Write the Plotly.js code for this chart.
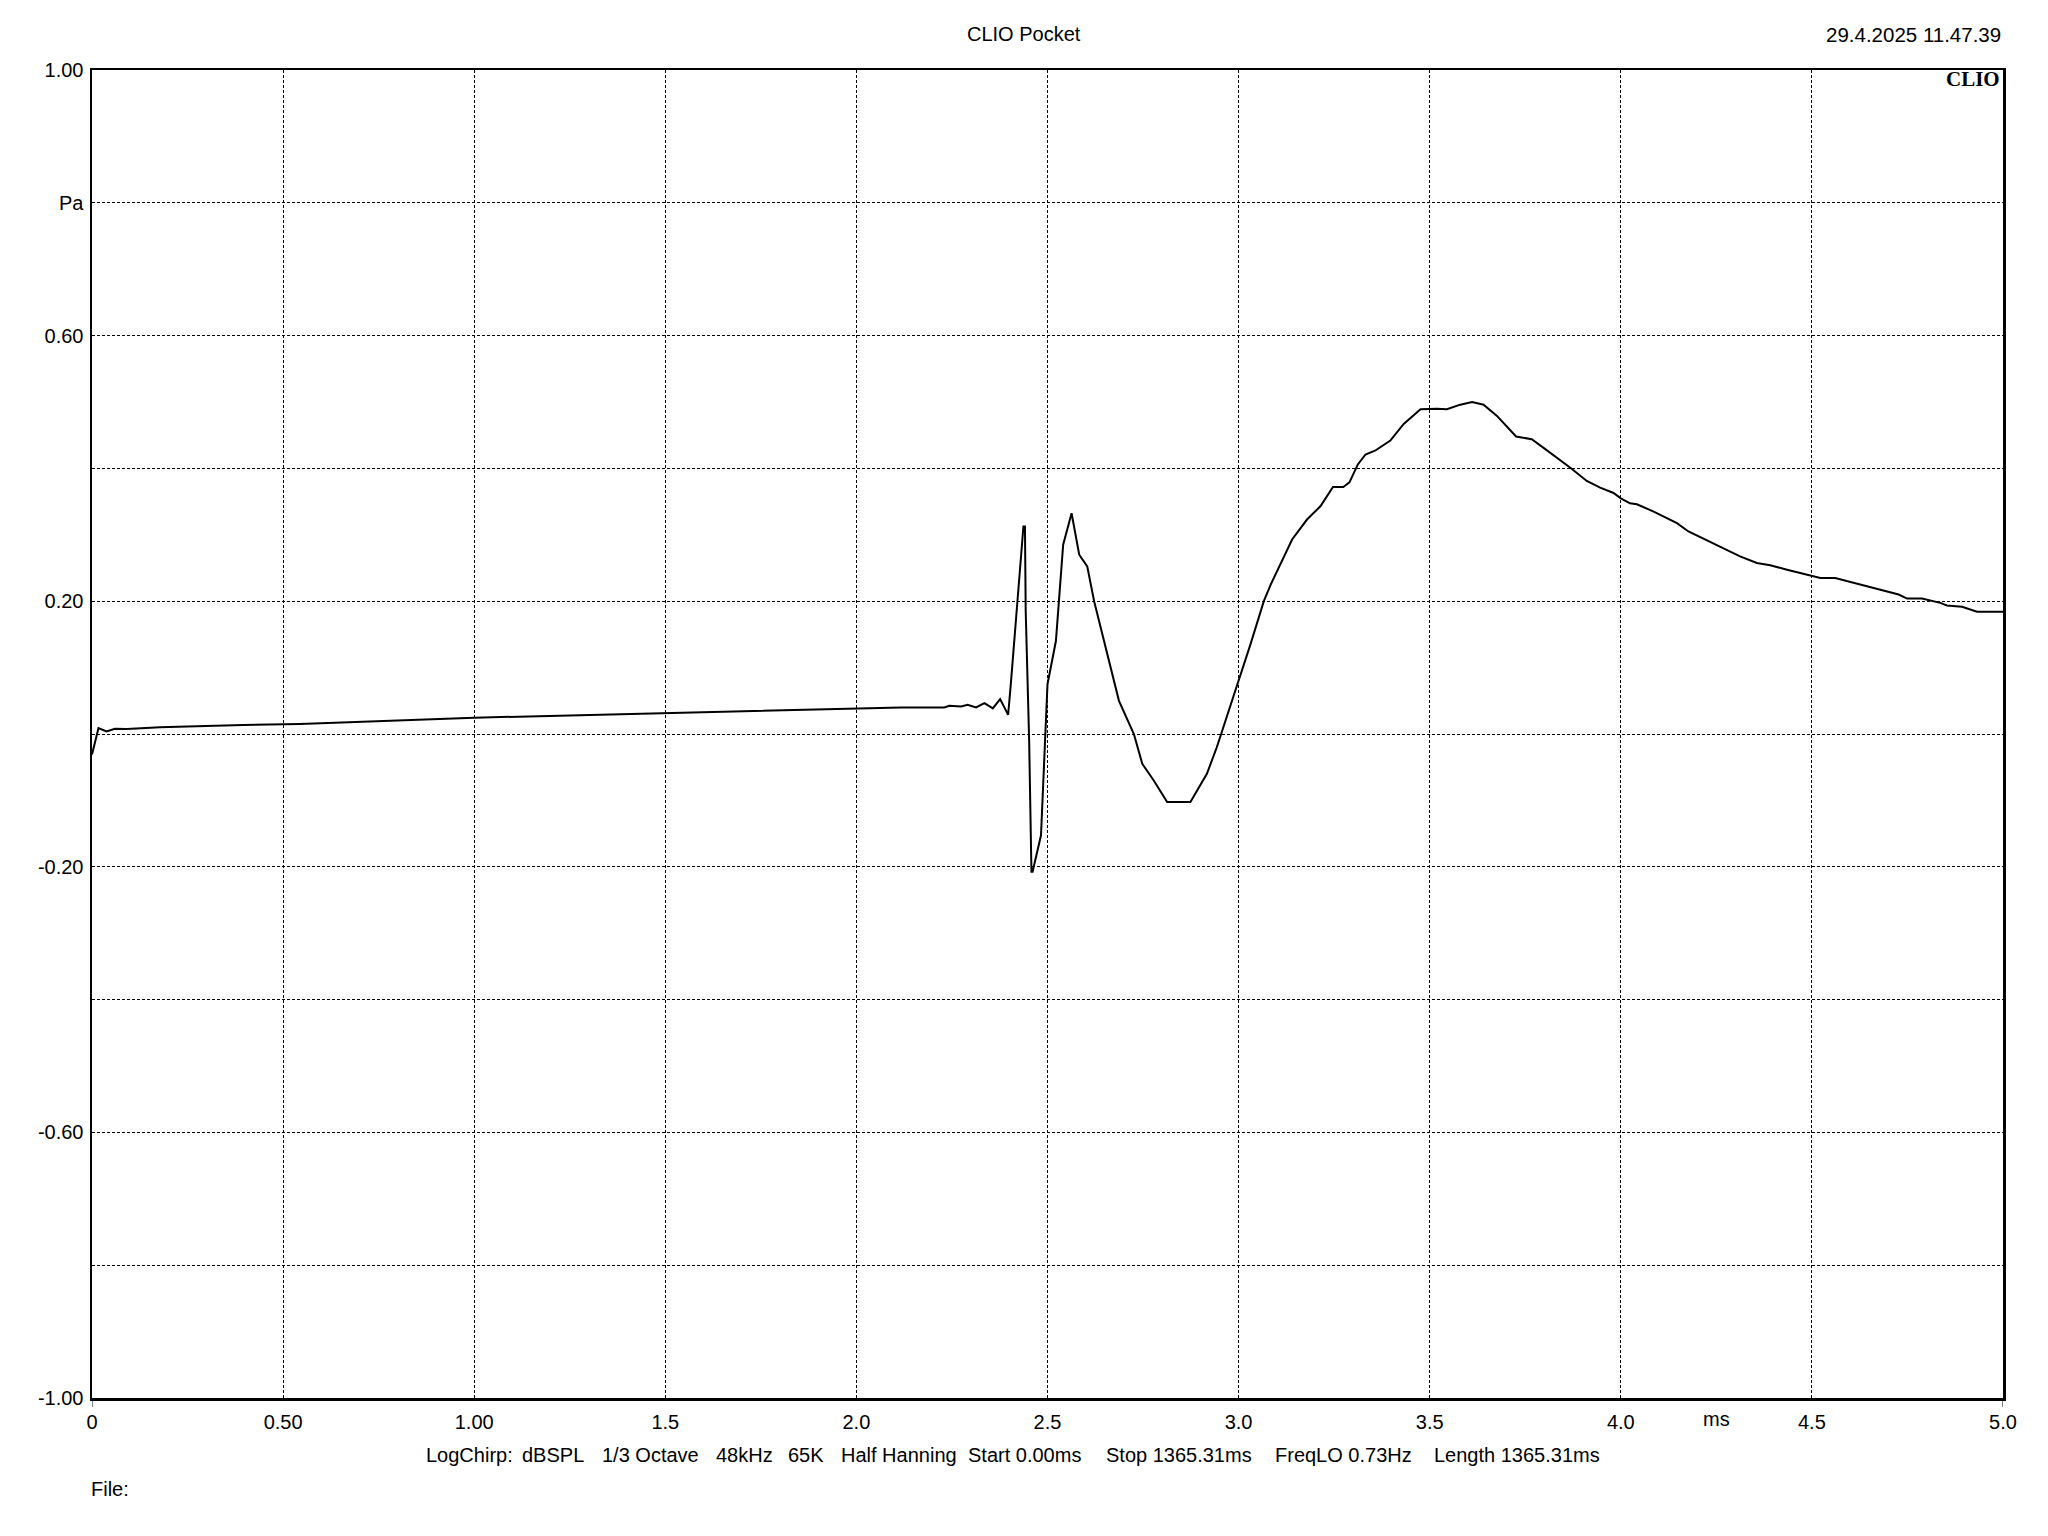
<!DOCTYPE html>
<html>
<head>
<meta charset="utf-8">
<script src="https://cdn.plot.ly/plotly-3.0.1.min.js"></script>
<style>
html,body{margin:0;padding:0;background:#fff;}
#chart{width:2048px;height:1536px;}
</style>
</head>
<body>
<div id="chart"></div>
<script>
// Impulse response (time in ms, pressure in Pa)
const time_ms = [
  0.000, 0.017, 0.038, 0.060, 0.091, 0.178, 0.274, 0.396, 0.544, 0.750,
  1.000, 1.250, 1.500, 1.750, 2.000, 2.117, 2.200, 2.230, 2.243, 2.274,
  2.291, 2.313, 2.335, 2.357, 2.376, 2.397, 2.404, 2.422, 2.437, 2.441,
  2.443, 2.452, 2.458, 2.461, 2.483, 2.500, 2.522, 2.541, 2.563, 2.583,
  2.604, 2.622, 2.648, 2.687, 2.726, 2.748, 2.778, 2.813, 2.874, 2.917,
  2.943, 3.000, 3.031, 3.066, 3.084, 3.140, 3.179, 3.214, 3.247, 3.274,
  3.290, 3.312, 3.332, 3.358, 3.397, 3.432, 3.476, 3.519, 3.545, 3.580,
  3.611, 3.641, 3.676, 3.726, 3.767, 3.798, 3.833, 3.868, 3.911, 3.946,
  3.981, 4.000, 4.024, 4.042, 4.086, 4.147, 4.177, 4.216, 4.260, 4.312,
  4.356, 4.391, 4.435, 4.500, 4.522, 4.561, 4.627, 4.661, 4.688, 4.727,
  4.749, 4.788, 4.836, 4.853, 4.893, 4.932, 5.000
];
const pressure_pa = [
  -0.031, 0.009, 0.004, 0.008, 0.0075, 0.010, 0.0115, 0.0136, 0.015, 0.019,
  0.0245, 0.028, 0.0315, 0.035, 0.039, 0.040, 0.040, 0.040, 0.0425, 0.0415,
  0.044, 0.040, 0.0465, 0.0385, 0.0525, 0.029, 0.075, 0.200, 0.3125, 0.3125,
  0.185, -0.010, -0.2075, -0.2075, -0.1525, 0.075, 0.140, 0.285, 0.3325, 0.270,
  0.2525, 0.200, 0.140, 0.050, 0.000, -0.045, -0.070, -0.1025, -0.1025, -0.060,
  -0.020, 0.080, 0.135, 0.200, 0.225, 0.293, 0.323, 0.343, 0.372, 0.372,
  0.379, 0.406, 0.421, 0.427, 0.442, 0.467, 0.489, 0.490, 0.489, 0.496,
  0.500, 0.496, 0.479, 0.448, 0.444, 0.431, 0.416, 0.401, 0.381, 0.371,
  0.363, 0.355, 0.3475, 0.346, 0.335, 0.3175, 0.305, 0.294, 0.2825, 0.2675,
  0.2575, 0.254, 0.2475, 0.239, 0.235, 0.235, 0.225, 0.221, 0.216, 0.210,
  0.204, 0.204, 0.1975, 0.1935, 0.1915, 0.184, 0.184
];

const xTickVals = [0, 0.5, 1, 1.5, 2, 2.5, 3, 3.5, 4, 4.5, 5];
const xTickText = ["0", "0.50", "1.00", "1.5", "2.0", "2.5", "3.0", "3.5", "4.0", "4.5", "5.0"];
const yTickVals = [-1, -0.8, -0.6, -0.4, -0.2, 0, 0.2, 0.4, 0.6, 0.8, 1];
const yTickText = ["-1.00", "", "-0.60", "", "-0.20", "", "0.20", "", "0.60", "Pa", "1.00"];

const titleText = "CLIO Pocket";
const dateText = "29.4.2025 11.47.39";
const logoText = "CLIO";
const xUnit = "ms";
const infoItems = ["LogChirp:", "dBSPL", "1/3 Octave", "48kHz", "65K", "Half Hanning",
  "Start 0.00ms", "Stop 1365.31ms", "FreqLO 0.73Hz", "Length 1365.31ms"];
const fileText = "File:";

const FONT = "Liberation Sans, Arial, sans-serif";
const FS = 20;
const L = 92, R = 45, T = 70, B = 138;
const PW = 2048 - L - R, PH = 1536 - T - B;
const px2paperX = X => (X - L) / PW;
const px2paperY = Y => (1536 - B - Y) / PH;

const infoX = [426, 522, 602, 716, 788, 841, 968, 1106, 1275, 1434];

const annotations = [
  {text: titleText, xref: "paper", yref: "paper", x: px2paperX(1024), y: px2paperY(34),
   xanchor: "center", yanchor: "middle", showarrow: false, font: {family: FONT, size: FS, color: "#000"}},
  {text: dateText, xref: "paper", yref: "paper", x: px2paperX(2003), y: px2paperY(34),
   xanchor: "right", yanchor: "middle", showarrow: false, font: {family: FONT, size: 20.5, color: "#000"}},
  {text: "<b>" + logoText + "</b>", xref: "paper", yref: "paper", x: px2paperX(2002), y: px2paperY(79),
   xanchor: "right", yanchor: "middle", showarrow: false, font: {family: "Liberation Serif, Times New Roman, serif", size: 21, color: "#000"}},
  {text: xUnit, xref: "x", yref: "paper", x: 4.25, y: px2paperY(1419),
   xanchor: "center", yanchor: "middle", showarrow: false, font: {family: FONT, size: FS, color: "#000"}},
  {text: fileText, xref: "paper", yref: "paper", x: px2paperX(89), y: px2paperY(1489),
   xanchor: "left", yanchor: "middle", showarrow: false, font: {family: FONT, size: FS, color: "#000"}}
];
infoItems.forEach((t, i) => {
  annotations.push({text: t, xref: "paper", yref: "paper", x: px2paperX(infoX[i] - 2), y: px2paperY(1455),
    xanchor: "left", yanchor: "middle", showarrow: false, font: {family: FONT, size: FS, color: "#000"}});
});

const axisCommon = {
  showgrid: true, gridcolor: "#000", gridwidth: 1, griddash: "3px,2px",
  showline: true, linecolor: "#000", linewidth: 2.5, mirror: true,
  zeroline: false, ticks: "", tickmode: "array",
  tickfont: {family: FONT, size: FS, color: "#000"}
};

// small end ticks below the x axis
const shapes = [0, 5].map(v => ({
  type: "line", xref: "x", yref: "paper", x0: v, x1: v, y0: 0, y1: -9 / PH,
  line: {color: "#000", width: 1}
}));

const layout = {
  width: 2048, height: 1536,
  margin: {l: L, r: R, t: T, b: B, pad: 0},
  paper_bgcolor: "#fff", plot_bgcolor: "#fff",
  showlegend: false,
  xaxis: Object.assign({}, axisCommon, {range: [0, 5], tickvals: xTickVals, ticktext: xTickText, ticklabelstandoff: 4}),
  yaxis: Object.assign({}, axisCommon, {range: [-1, 1], tickvals: yTickVals, ticktext: yTickText, ticklabelstandoff: 2}),
  annotations: annotations,
  shapes: shapes
};

const trace = {
  x: time_ms, y: pressure_pa, type: "scatter", mode: "lines",
  line: {color: "#000", width: 2}, hoverinfo: "skip", cliponaxis: true
};

Plotly.newPlot("chart", [trace], layout, {staticPlot: true, displayModeBar: false});
</script>
</body>
</html>
